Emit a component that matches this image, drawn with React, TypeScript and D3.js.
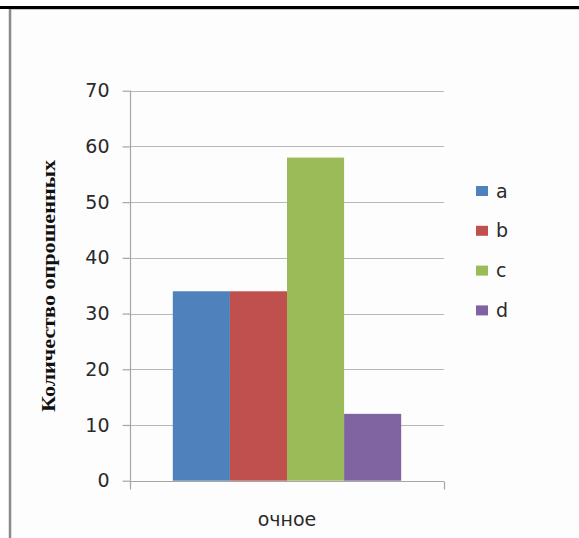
import { useEffect, useRef } from 'react';
import * as d3 from 'd3';

const categories = ['очное'];
const series = ['a', 'b', 'c', 'd'];
const values = [34, 34, 58, 12];
const seriesColors = ['#4f81bd', '#c0504d', '#9bbb59', '#8064a2'];
const yTicks = [0, 10, 20, 30, 40, 50, 60, 70];
const yTitle = 'Количество опрошенных';

export default function App() {
  const ref = useRef<SVGSVGElement>(null);

  useEffect(() => {
    const svg = d3.select(ref.current);
    svg.selectAll('*').remove();

    const width = 579;
    const height = 538;
    const left = 130;
    const right = 444;
    const top = 90.7;
    const bottom = 480.7;
    const font = "'DejaVu Sans', Verdana, sans-serif";

    // page frame
    svg.append('rect').attr('width', width).attr('height', height).attr('fill', '#ffffff');
    svg
      .append('rect')
      .attr('x', 11)
      .attr('y', 9)
      .attr('width', width - 11)
      .attr('height', height - 9)
      .attr('fill', '#fdfdfd');
    svg
      .append('line')
      .attr('x1', 0)
      .attr('x2', width)
      .attr('y1', 7.5)
      .attr('y2', 7.5)
      .attr('stroke', '#000')
      .attr('stroke-width', 3);
    svg
      .append('line')
      .attr('x1', 10)
      .attr('x2', width)
      .attr('y1', 9.5)
      .attr('y2', 9.5)
      .attr('stroke', '#c8c8c8')
      .attr('stroke-width', 1);
    svg
      .append('line')
      .attr('x1', 10)
      .attr('x2', 10)
      .attr('y1', 9)
      .attr('y2', height)
      .attr('stroke', '#8a8a8a')
      .attr('stroke-width', 2.5);

    const y = d3.scaleLinear().domain([0, 70]).range([bottom, top]);
    const x0 = d3.scaleBand().domain(categories).range([left, right]);
    const x1 = d3
      .scaleBand()
      .domain(series)
      .range([0, x0.bandwidth()])
      .paddingInner(0)
      .paddingOuter(0.75);

    // gridlines
    svg
      .append('g')
      .selectAll('line')
      .data(yTicks)
      .enter()
      .append('line')
      .attr('x1', left)
      .attr('x2', right)
      .attr('y1', d => Math.round(y(d)) + 0.5)
      .attr('y2', d => Math.round(y(d)) + 0.5)
      .attr('stroke', '#b8b8b8')
      .attr('stroke-width', 1.2);

    // bars
    svg
      .append('g')
      .selectAll('rect')
      .data(values)
      .enter()
      .append('rect')
      .attr('x', (d, i) => x0(categories[0])! + x1(series[i])!)
      .attr('y', d => y(d))
      .attr('width', x1.bandwidth())
      .attr('height', d => y(0) - y(d))
      .attr('fill', (d, i) => seriesColors[i]);

    // y axis
    const yAxis = d3.axisLeft(y).tickValues(yTicks).tickSize(8).tickPadding(13);
    const gy = svg.append('g').attr('transform', `translate(${left + 0.5},0)`).call(yAxis);
    gy.selectAll('path, line').attr('stroke', '#a6a6a6').attr('stroke-width', 1.2);
    gy.select('.domain').attr('d', `M0,${top}V${bottom}`);
    gy.selectAll('text')
      .attr('font-family', font)
      .attr('font-size', 19)
      .attr('fill', '#2a2a2a');

    // x axis
    const gx = svg.append('g').attr('transform', `translate(0,${Math.round(bottom) + 0.5})`);
    gx.append('line')
      .attr('x1', left)
      .attr('x2', right)
      .attr('stroke', '#a6a6a6')
      .attr('stroke-width', 1.2);
    gx.selectAll('line.tick')
      .data(x0.range())
      .enter()
      .append('line')
      .attr('class', 'tick')
      .attr('x1', d => d + 0.5)
      .attr('x2', d => d + 0.5)
      .attr('y1', 0)
      .attr('y2', 8)
      .attr('stroke', '#a6a6a6')
      .attr('stroke-width', 1.2);
    gx.selectAll('text')
      .data(categories)
      .enter()
      .append('text')
      .attr('x', d => x0(d)! + x0.bandwidth() / 2)
      .attr('y', 44)
      .attr('text-anchor', 'middle')
      .attr('font-family', font)
      .attr('font-size', 19)
      .attr('fill', '#2a2a2a')
      .text(d => d);

    // y title
    svg
      .append('text')
      .attr('transform', `translate(55,286) rotate(-90)`)
      .attr('text-anchor', 'middle')
      .attr('font-family', "'Liberation Serif', 'Times New Roman', serif")
      .attr('font-weight', 'bold')
      .attr('font-size', 19)
      .attr('textLength', 252)
      .attr('lengthAdjust', 'spacingAndGlyphs')
      .attr('fill', '#111')
      .text(yTitle);

    // legend
    const legendItem = svg
      .append('g')
      .attr('transform', 'translate(476,191)')
      .selectAll('g')
      .data(series)
      .enter()
      .append('g')
      .attr('transform', (d, i) => `translate(0, ${i * 39.8})`);
    legendItem
      .append('rect')
      .attr('y', -5)
      .attr('width', 12)
      .attr('height', 10)
      .attr('fill', (d, i) => seriesColors[i]);
    legendItem
      .append('text')
      .attr('x', 20)
      .attr('dy', '0.35em')
      .attr('font-family', font)
      .attr('font-size', 19)
      .attr('fill', '#2a2a2a')
      .text(d => d);
  }, []);

  return (
    <div style={{ position: 'absolute', left: 0, top: 0 }}>
      <svg ref={ref} width={579} height={538} style={{ display: 'block' }} />
    </div>
  );
}
